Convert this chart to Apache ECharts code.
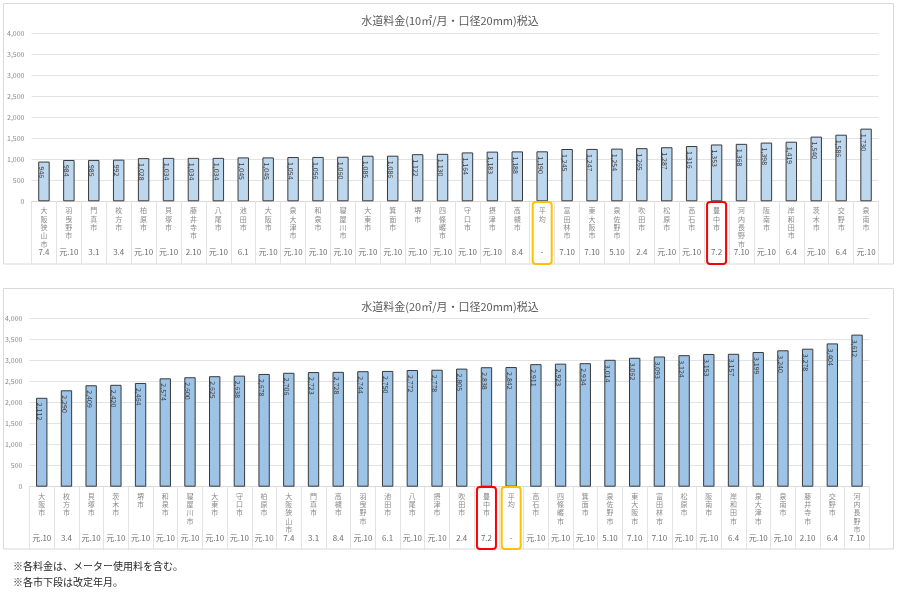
<!DOCTYPE html>
<html>
<head>
<meta charset="utf-8">
<script src="https://cdn.jsdelivr.net/npm/echarts@6/dist/echarts.min.js"></script>
<style>
  html, body { margin: 0; padding: 0; background: #fff; }
  #main { width: 900px; height: 593px; }
</style>
</head>
<body>
<div id="main"></div>
<script type="text/javascript">
// 上段: 10㎡/月
var cities10 = ['大阪狭山市','羽曳野市','門真市','枚方市','柏原市','貝塚市','藤井寺市','八尾市','池田市','大阪市',
  '泉大津市','和泉市','寝屋川市','大東市','箕面市','堺市','四條畷市','守口市','摂津市','高槻市',
  '平均','富田林市','東大阪市','泉佐野市','吹田市','松原市','高石市','豊中市','河内長野市','阪南市',
  '岸和田市','茨木市','交野市','泉南市'];
var fee10 = [946, 984, 985, 992, 1028, 1034, 1034, 1034, 1045, 1045,
  1054, 1056, 1060, 1085, 1086, 1122, 1130, 1164, 1183, 1188,
  1190, 1245, 1247, 1254, 1265, 1287, 1316, 1353, 1368, 1398,
  1419, 1540, 1586, 1730];
var rev10 = ['7.4','元.10','3.1','3.4','元.10','元.10','2.10','元.10','6.1','元.10',
  '元.10','元.10','元.10','元.10','元.10','元.10','元.10','元.10','元.10','8.4',
  '-','7.10','7.10','5.10','2.4','元.10','元.10','7.2','7.10','元.10',
  '6.4','元.10','6.4','元.10'];

// 下段: 20㎡/月
var cities20 = ['大阪市','枚方市','貝塚市','茨木市','堺市','和泉市','寝屋川市','大東市','守口市','柏原市',
  '大阪狭山市','門真市','高槻市','羽曳野市','池田市','八尾市','摂津市','吹田市','豊中市','平均',
  '高石市','四條畷市','箕面市','泉佐野市','東大阪市','富田林市','松原市','阪南市','岸和田市','泉大津市',
  '泉南市','藤井寺市','交野市','河内長野市'];
var fee20 = [2112, 2290, 2409, 2420, 2464, 2574, 2600, 2625, 2638, 2678,
  2706, 2723, 2728, 2744, 2750, 2772, 2778, 2805, 2838, 2842,
  2911, 2923, 2934, 3014, 3062, 3093, 3124, 3153, 3157, 3199,
  3240, 3278, 3404, 3612];
var rev20 = ['元.10','3.4','元.10','元.10','元.10','元.10','元.10','元.10','元.10','元.10',
  '7.4','3.1','8.4','元.10','6.1','元.10','元.10','2.4','7.2','-',
  '元.10','元.10','元.10','5.10','7.10','7.10','元.10','元.10','6.4','元.10',
  '元.10','2.10','6.4','7.10'];

var titles = ['水道料金(10㎡/月・口径20mm)税込', '水道料金(20㎡/月・口径20mm)税込'];
var notes = ['※各料金は、メーター使用料を含む。', '※各市下段は改定年月。'];

var FONT = '"Noto Sans CJK JP", "Noto Sans", sans-serif';
var chart = echarts.init(document.getElementById('main'));

function fmt(v) { return Number(v).toLocaleString('en-US'); }
function vert(s) { return s.split('').join('\n'); }

function nameAxis(idx, data) {
  return {
    type: 'category', gridIndex: idx, data: data, position: 'bottom',
    axisLine: { lineStyle: { color: '#d9d9d9' } },
    axisTick: { show: true, interval: 0, length: 63, lineStyle: { color: '#e3e3e3' } },
    axisLabel: { interval: 0, formatter: vert, fontSize: 7, lineHeight: 8.4,
      color: '#8a8a8a', margin: 5, fontFamily: FONT }
  };
}
function revAxis(idx, data) {
  return {
    type: 'category', gridIndex: idx, data: data, position: 'bottom', offset: 47,
    axisLine: { show: false }, axisTick: { show: false },
    axisLabel: { interval: 0, fontSize: 8, color: '#6e6e6e', margin: 0, fontFamily: FONT }
  };
}
function valAxis(idx) {
  return {
    type: 'value', gridIndex: idx, min: 0, max: 4000, interval: 500,
    axisLine: { show: false }, axisTick: { show: false },
    splitLine: { lineStyle: { color: '#e3e3e3' } },
    axisLabel: { formatter: fmt, fontSize: 7, color: '#8a8a8a', margin: 7, fontFamily: FONT }
  };
}
function barSeries(idx, data, color) {
  return {
    type: 'bar', xAxisIndex: idx * 2, yAxisIndex: idx, data: data, barWidth: '46%',
    itemStyle: { color: color, borderColor: '#3a3a3a', borderWidth: 1 },
    label: { show: true, position: 'insideTop', rotate: -90, align: 'left', verticalAlign: 'middle',
      offset: [0, 2], formatter: function (p) { return fmt(p.value); },
      fontSize: 7, color: '#404040', fontFamily: FONT },
    silent: true
  };
}

var option = {
  animation: false,
  textStyle: { fontFamily: FONT },
  title: [
    { text: titles[0], left: 'center', top: 10, textStyle: { fontSize: 11, fontWeight: 'normal', color: '#595959', fontFamily: FONT } },
    { text: titles[1], left: 'center', top: 296, textStyle: { fontSize: 11, fontWeight: 'normal', color: '#595959', fontFamily: FONT } },
    { text: notes[0], left: 13, top: 561, padding: 0, textStyle: { fontSize: 10, fontWeight: 'normal', color: '#262626', fontFamily: FONT } },
    { text: notes[1], left: 13, top: 577, padding: 0, textStyle: { fontSize: 10, fontWeight: 'normal', color: '#262626', fontFamily: FONT } }
  ],
  grid: [
    { left: 31.5, right: 21.5, top: 33.3, bottom: 391.7 },
    { left: 29.4, right: 30.6, top: 318.3, bottom: 106.3 }
  ],
  xAxis: [nameAxis(0, cities10), revAxis(0, rev10), nameAxis(1, cities20), revAxis(1, rev20)],
  yAxis: [valAxis(0), valAxis(1)],
  series: [barSeries(0, fee10, '#bdd7ee'), barSeries(1, fee20, '#9dc3e6')]
};
chart.setOption(option);

// 枠と強調枠
function mark(axis, name, y0, y1, color) {
  var cx = chart.convertToPixel({ xAxisIndex: axis }, name);
  return { type: 'rect', shape: { x: cx - 9.5, y: y0, width: 19, height: y1 - y0, r: 3 },
    style: { fill: 'none', stroke: color, lineWidth: 2 }, z: 100 };
}
chart.setOption({
  graphic: [
    { type: 'rect', shape: { x: 3.5, y: 3.5, width: 890, height: 260.5 }, style: { fill: 'none', stroke: '#d9d9d9', lineWidth: 1 }, z: 0 },
    { type: 'rect', shape: { x: 3.5, y: 288.5, width: 890, height: 260.5 }, style: { fill: 'none', stroke: '#d9d9d9', lineWidth: 1 }, z: 0 },
    mark(0, '平均', 202, 264, '#ffc000'),
    mark(0, '豊中市', 202, 264, '#ff0000'),
    mark(2, '平均', 487, 549, '#ffc000'),
    mark(2, '豊中市', 487, 549, '#ff0000')
  ]
});
</script>
</body>
</html>
